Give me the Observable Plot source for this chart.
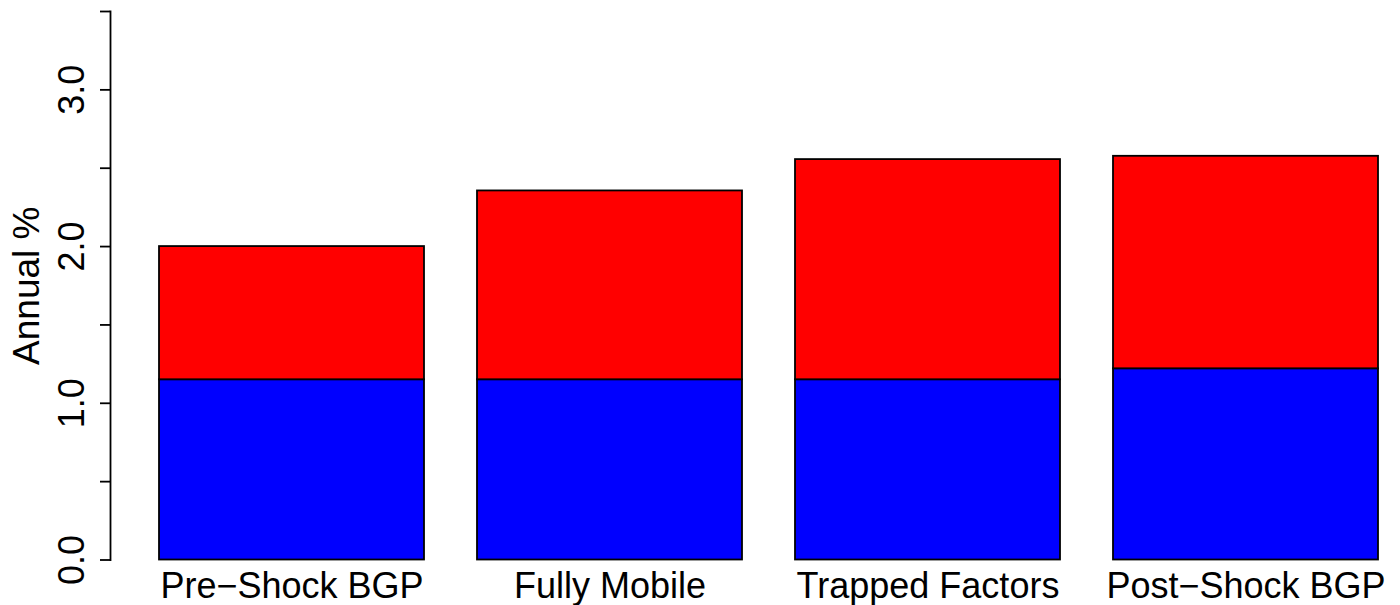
<!DOCTYPE html>
<html>
<head>
<meta charset="utf-8">
<script src="https://cdn.jsdelivr.net/npm/d3@7"></script>
<script src="https://cdn.jsdelivr.net/npm/@observablehq/plot@0.6"></script>
<style>
  html, body { margin: 0; padding: 0; background: #fff; }
  #chart svg { display: block; }
</style>
</head>
<body>
<div id="chart"></div>
<script>
const categories = ["Pre\u2212Shock BGP", "Fully Mobile", "Trapped Factors", "Post\u2212Shock BGP"];
const blueValues = [1.15, 1.15, 1.15, 1.22];
const redValues = [0.85, 1.205, 1.405, 1.356];
const seriesNames = ["bottom", "top"];
const seriesColors = ["#0000FF", "#FF0000"];
const yTickValues = [0, 0.5, 1, 1.5, 2, 2.5, 3, 3.5];
const yTickLabels = ["0.0", "", "1.0", "", "2.0", "", "3.0", ""];
const yLabel = "Annual %";

const rows = [];
categories.forEach((c, i) => {
  rows.push({cat: c, series: seriesNames[0], value: blueValues[i]});
  rows.push({cat: c, series: seriesNames[1], value: redValues[i]});
});

const W = 1400, H = 605;
const mL = 110, mR = 21.7, mT = 11, mB = 45.5;
const font = "'Liberation Sans', Arial, Helvetica, sans-serif";

const chart = Plot.plot({
  width: W,
  height: H,
  marginLeft: mL,
  marginRight: mR,
  marginTop: mT,
  marginBottom: mB,
  style: {fontFamily: font, fontSize: "36px", color: "#000", background: "#fff"},
  x: {domain: categories, paddingInner: 0.2 / 1.2, paddingOuter: 0, insetLeft: 49, label: null},
  y: {domain: [0, 3.5], label: null},
  color: {domain: seriesNames, range: seriesColors},
  marks: [
    Plot.barY(rows, {x: "cat", y: "value", fill: "series", stroke: "#000", strokeWidth: 1.8}),
    Plot.frame({anchor: "left", stroke: "#000", strokeWidth: 1.8}),
    Plot.ruleY(yTickValues, {y: (d) => d, insetLeft: -10, insetRight: W - mR - mL, stroke: "#000", strokeWidth: 1.8}),
    Plot.axisY({
      ticks: yTickValues,
      tickFormat: (d) => yTickLabels[yTickValues.indexOf(d)],
      tickSize: 0,
      tickPadding: 38,
      rotate: -90,
      textAnchor: "middle",
      lineAnchor: "middle",
      fontSize: 36,
      label: null
    }),
    Plot.axisX({tickSize: 0, tickPadding: 12, fontSize: 36, label: null}),
    Plot.text([yLabel], {frameAnchor: "left", dx: -83, rotate: -90, textAnchor: "middle", lineAnchor: "middle", fontSize: 37, fill: "#000"})
  ]
});
document.getElementById("chart").appendChild(chart);
</script>
</body>
</html>
